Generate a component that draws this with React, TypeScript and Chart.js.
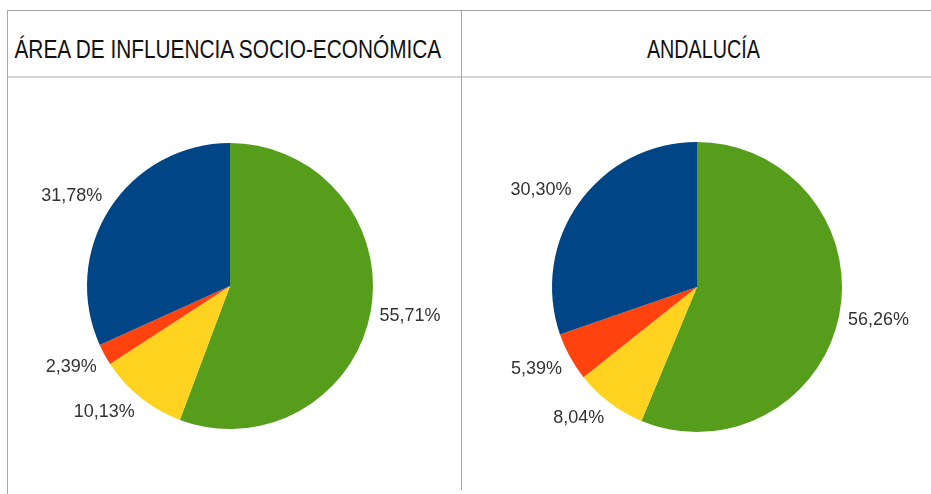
import React, { useEffect, useRef } from "react";
import { Chart, registerables } from "chart.js";

Chart.register(...registerables);

const headers = ["ÁREA DE INFLUENCIA SOCIO-ECONÓMICA", "ANDALUCÍA"];
const categories = ["Verde", "Amarillo", "Naranja", "Azul"];
const areaValues = [55.71, 10.13, 2.39, 31.78];
const andaluciaValues = [56.26, 8.04, 5.39, 30.3];
const sliceColors = ["#579D1C", "#FFD320", "#FF420E", "#004586"];

const fmt = (v: number) => v.toFixed(2).replace(".", ",") + "%";

const labelPlugin = {
  id: "outLabels",
  afterDatasetsDraw(chart: any) {
    const ctx = chart.ctx;
    const meta = chart.getDatasetMeta(0);
    const data = chart.data.datasets[0].data as number[];
    ctx.save();
    ctx.font = '18px "Liberation Sans", Arial, sans-serif';
    ctx.fillStyle = "#333333";
    ctx.textAlign = "center";
    ctx.textBaseline = "middle";
    meta.data.forEach((arc: any, i: number) => {
      const p = arc.getProps(["x", "y", "startAngle", "endAngle", "outerRadius"], true);
      const mid = (p.startAngle + p.endAngle) / 2;
      const dx = Math.cos(mid);
      const dy = Math.sin(mid);
      const r = p.outerRadius + 9;
      const px = p.x + dx * r;
      const py = p.y + dy * r;
      const text = fmt(data[i]);
      const w = ctx.measureText(text).width;
      const h = 16;
      const cx = px + (w / 2) * Math.sign(dx);
      const cy = py + (h / 2) * Math.min(1, Math.abs(dy) * 2) * Math.sign(dy);
      ctx.fillText(text, cx, cy);
    });
    ctx.restore();
  },
};

function Pie({ values, left, top, width, height, pad }: any) {
  const ref = useRef<HTMLCanvasElement>(null);
  useEffect(() => {
    if (!ref.current) return;
    const chart = new Chart(ref.current, {
      type: "pie",
      data: {
        labels: categories,
        datasets: [
          {
            data: values,
            backgroundColor: sliceColors,
            borderWidth: 0,
          },
        ],
      },
      options: {
        responsive: false,
        animation: false,
        events: [],
        layout: { padding: pad },
        plugins: { legend: { display: false }, tooltip: { enabled: false } },
      },
      plugins: [labelPlugin],
    });
    return () => chart.destroy();
  }, []);
  return (
    <canvas
      ref={ref}
      width={width}
      height={height}
      style={{ position: "absolute", left, top, width, height }}
    />
  );
}

const HEADER_FONT = '"Liberation Sans", Arial, sans-serif';
const HEADER_SIZE = 26;

function measure(text: string) {
  const c = document.createElement("canvas").getContext("2d");
  if (!c) return 1;
  c.font = `${HEADER_SIZE}px ${HEADER_FONT}`;
  return c.measureText(text).width;
}

function Header({ text, center, targetWidth }: any) {
  const w = measure(text);
  const scale = targetWidth / w;
  return (
    <div
      style={{
        position: "absolute",
        left: center - w / 2,
        top: 36,
        width: w,
        fontFamily: HEADER_FONT,
        fontSize: HEADER_SIZE,
        lineHeight: `${HEADER_SIZE}px`,
        color: "#111",
        whiteSpace: "nowrap",
        transform: `scaleX(${scale})`,
        transformOrigin: "center",
      }}
    >
      {text}
    </div>
  );
}

export default function App() {
  const lineGray = "#a6a6a6";
  return (
    <div
      style={{
        position: "absolute",
        left: 0,
        top: 0,
        width: 931,
        height: 494,
        background: "#ffffff",
        overflow: "hidden",
      }}
    >
      <div style={{ position: "absolute", left: 7, top: 10, width: 924, height: 1, background: lineGray }} />
      <div style={{ position: "absolute", left: 7, top: 76, width: 924, height: 2, background: "#d4d4d4" }} />
      <div style={{ position: "absolute", left: 7, top: 10, width: 1, height: 484, background: lineGray }} />
      <div style={{ position: "absolute", left: 461, top: 10, width: 1, height: 480, background: lineGray }} />

      <Header text={headers[0]} center={228.5} targetWidth={429} />
      <Header text={headers[1]} center={703.5} targetWidth={113} />

      <Pie
        values={areaValues}
        left={8}
        top={78}
        width={453}
        height={416}
        pad={{ left: 79, right: 88, top: 65, bottom: 65 }}
      />
      <Pie
        values={andaluciaValues}
        left={462}
        top={78}
        width={469}
        height={416}
        pad={{ left: 90, right: 89, top: 64, bottom: 62 }}
      />
    </div>
  );
}
